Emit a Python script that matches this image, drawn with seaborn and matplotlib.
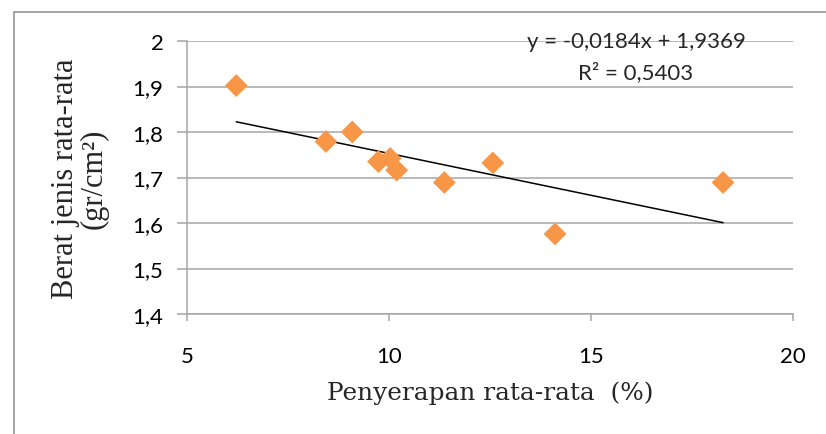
import matplotlib
matplotlib.use("Agg")
import matplotlib.pyplot as plt
import seaborn as sns
import pandas as pd
import numpy as np
from matplotlib.patches import Rectangle

# ---- data ----
penyerapan = [6.22, 8.44, 9.09, 9.74, 10.03, 10.19, 11.37, 12.57, 14.11, 18.27]
berat_jenis = [1.902, 1.779, 1.800, 1.735, 1.742, 1.716, 1.689, 1.732, 1.576, 1.689]
slope = -0.0184
intercept = 1.9369
r_squared = 0.5403
x_ticks = [5, 10, 15, 20]
x_tick_labels = ["5", "10", "15", "20"]
y_ticks = [1.4, 1.5, 1.6, 1.7, 1.8, 1.9, 2.0]
y_tick_labels = ["1,4", "1,5", "1,6", "1,7", "1,8", "1,9", "2"]
x_label = "Penyerapan rata-rata  (%)"
y_label = "Berat jenis rata-rata\n(gr/cm\u00b2)"
eq_text = "y = -0,0184x + 1,9369"
r2_text = "R\u00b2 = 0,5403"

df = pd.DataFrame({"x": penyerapan, "y": berat_jenis})
x_min, x_max = min(penyerapan), max(penyerapan)
trend = pd.DataFrame({"x": [x_min, x_max]})
trend["y"] = intercept + slope * trend["x"]

sns.set_style("white")
fig = plt.figure(figsize=(8.26, 4.35), dpi=100)
W, H = 826, 435
ax = fig.add_axes([187 / W, 1 - 315 / H, (793 - 187) / W, (315 - 42) / H])

grid_c = "#a6a6a6"
sns.scatterplot(data=df, x="x", y="y", ax=ax, marker="D", s=135,
                color="#f79646", edgecolor="none", linewidth=0, zorder=3)
sns.lineplot(data=trend, x="x", y="y", ax=ax, color="black", linewidth=1.1, zorder=2)

ax.set_xlim(5, 20)
ax.set_ylim(1.4, 2.0)
ax.set_xticks(x_ticks)
ax.set_xticklabels(x_tick_labels)
ax.set_yticks(y_ticks)
ax.set_yticklabels(y_tick_labels)

ax.yaxis.grid(True, color=grid_c, linewidth=1.1)
ax.xaxis.grid(False)
for s in ["top", "right"]:
    ax.spines[s].set_visible(False)
for s in ["left", "bottom"]:
    ax.spines[s].set_color(grid_c)
    ax.spines[s].set_linewidth(1.1)

fs_tick = 16
ax.tick_params(axis="y", direction="out", length=7, width=1.1, color=grid_c,
               pad=10, left=True)
ax.tick_params(axis="x", direction="out", length=5, width=1.1, color=grid_c,
               pad=18, bottom=True)
for lab in ax.get_xticklabels() + ax.get_yticklabels():
    lab.set_fontfamily(["Lato", "DejaVu Sans"])
    lab.set_fontsize(fs_tick)
    lab.set_color("black")

ax.set_xlabel(x_label, fontfamily="DejaVu Serif", fontsize=17.8)
ax.set_ylabel(y_label, fontfamily="Liberation Serif", fontsize=22,
              multialignment="center", linespacing=0.95)
ax.xaxis.set_label_coords(0.5, -0.245)
ax.yaxis.set_label_coords(-0.13, 0.5)

ax.text(0.741, 1.0, eq_text, transform=ax.transAxes, ha="center", va="center",
        fontfamily=["Lato", "DejaVu Sans"], fontsize=fs_tick, zorder=4)
ax.text(0.741, 0.886, r2_text, transform=ax.transAxes, ha="center", va="center",
        fontfamily=["Lato", "DejaVu Sans"], fontsize=fs_tick, zorder=4)

# outer chart border
fig.patches.append(Rectangle((14, -10), 830, 435 - 13 + 10, transform=None,
                             fill=False, edgecolor="#8c8c8c", linewidth=1.1))

fig.savefig("out.png", dpi=100)
